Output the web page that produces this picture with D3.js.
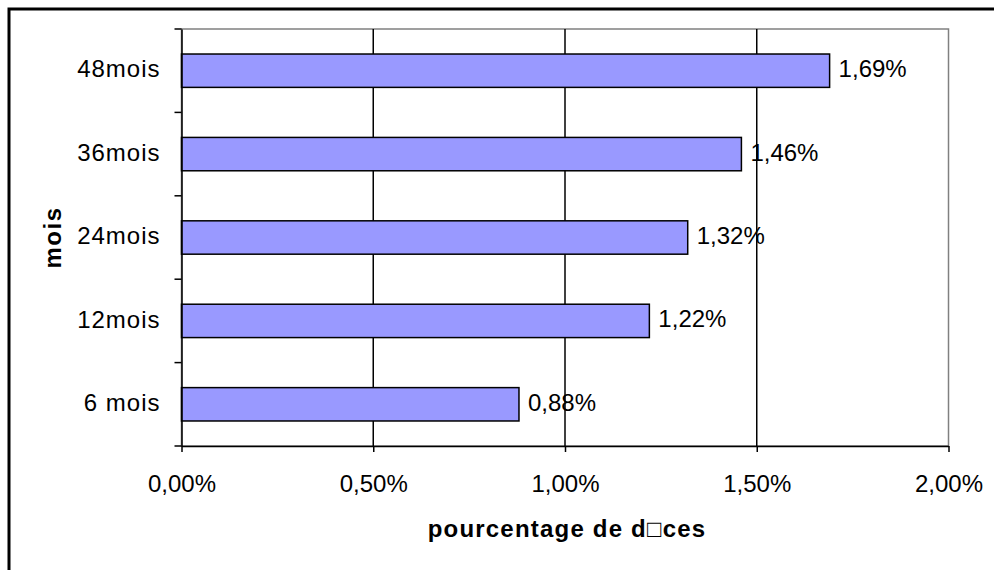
<!DOCTYPE html>
<html><head><meta charset="utf-8">
<script src="https://cdn.jsdelivr.net/npm/d3@7"></script>
<style>body{margin:0;background:#fff}svg{display:block}</style>
</head><body>
<script>
const categories = ["6 mois", "12mois", "24mois", "36mois", "48mois"];
const values = [0.0088, 0.0122, 0.0132, 0.0146, 0.0169];
const xTicks = [0, 0.005, 0.01, 0.015, 0.02];
const xTitle = "pourcentage de d\u25A1ces";
const yTitle = "mois";

const W = 994, H = 570;
const svg = d3.select("body").append("svg").attr("width", W).attr("height", H);
const font = "Liberation Sans, Arial, sans-serif";
const fmt = v => (v * 100).toFixed(2).replace(".", ",") + "%";

// outer frame
svg.append("rect").attr("x", 9).attr("y", 9).attr("width", W + 20).attr("height", H + 20)
  .attr("fill", "#fff").attr("stroke", "#000").attr("stroke-width", 3);

const L = 181.5, R = 948.5, T = 29, B = 446;
const x = d3.scaleLinear().domain([0, 0.02]).range([L, R]);
const y = d3.scaleBand().domain(categories.slice().reverse()).range([T, B]).paddingInner(0.6).paddingOuter(0.3);
const yb = d3.scaleBand().domain(categories.slice().reverse()).range([T, B]);

// plot border (gray)
svg.append("rect").attr("x", L).attr("y", T).attr("width", R - L).attr("height", B - T)
  .attr("fill", "none").attr("stroke", "#808080").attr("stroke-width", 1.5);

// gridlines
svg.append("g").selectAll("line").data(xTicks.filter(t => t > 0 && t < 0.02)).join("line")
  .attr("x1", d => x(d)).attr("x2", d => x(d)).attr("y1", T).attr("y2", B)
  .attr("stroke", "#000").attr("stroke-width", 1.5);

// bars
svg.append("g").selectAll("rect").data(categories).join("rect")
  .attr("x", x(0)).attr("y", (d) => y(d))
  .attr("width", (d, i) => x(values[i]) - x(0)).attr("height", y.bandwidth())
  .attr("fill", "#9999FF").attr("stroke", "#000").attr("stroke-width", 1.5);

// x axis
const xAxis = svg.append("g").attr("transform", `translate(0,${B})`)
  .call(d3.axisBottom(x).tickValues(xTicks).tickFormat(fmt).tickSize(6).tickSizeOuter(0));
xAxis.select(".domain").attr("stroke", "#000").attr("stroke-width", 1.5);
xAxis.selectAll(".tick line").attr("stroke", "#000").attr("stroke-width", 1.5);
xAxis.selectAll(".tick text").attr("font-family", font).attr("font-size", 24).attr("fill", "#000")
  .attr("dy", null).attr("y", 46);

// y axis
const yAxis = svg.append("g").attr("transform", `translate(${L},0)`)
  .call(d3.axisLeft(yb).tickSize(0).tickPadding(21));
yAxis.select(".domain").attr("stroke", "#000").attr("stroke-width", 1.5);
yAxis.selectAll(".tick text").attr("font-family", font).attr("font-size", 24).attr("fill", "#000")
  .attr("letter-spacing", 1).attr("dy", "0.28em");
// boundary ticks
const bounds = yb.domain().map(d => yb(d)).concat([B]);
svg.append("g").selectAll("line").data(bounds).join("line")
  .attr("x1", L - 7).attr("x2", L).attr("y1", d => d).attr("y2", d => d)
  .attr("stroke", "#000").attr("stroke-width", 1.5);

// value labels
svg.append("g").selectAll("text").data(categories).join("text")
  .attr("x", (d, i) => x(values[i]) + 9)
  .attr("y", d => y(d) + y.bandwidth() / 2 + 6.5)
  .attr("font-family", font).attr("font-size", 24).attr("fill", "#000")
  .text((d, i) => fmt(values[i]));

// titles
svg.append("text").attr("x", (L + R) / 2 + 2).attr("y", 537).attr("text-anchor", "middle")
  .attr("font-family", font).attr("font-size", 24).attr("font-weight", "bold").attr("letter-spacing", 1.2)
  .text(xTitle);
svg.append("text").attr("transform", `translate(61,${(T + B) / 2}) rotate(-90)`).attr("text-anchor", "middle")
  .attr("font-family", font).attr("font-size", 24).attr("font-weight", "bold").attr("letter-spacing", 1.5)
  .text(yTitle);
</script>
</body></html>
